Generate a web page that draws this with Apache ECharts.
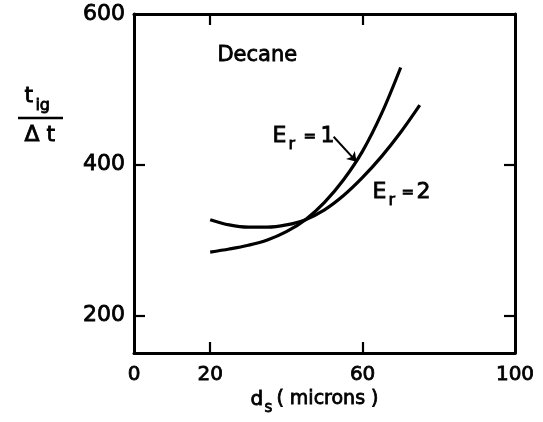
<!DOCTYPE html>
<html>
<head>
<meta charset="utf-8">
<script src="https://cdn.jsdelivr.net/npm/echarts@6/dist/echarts.min.js"></script>
<style>
  html, body { margin: 0; padding: 0; background: #fff; }
  #chart { width: 543px; height: 422px; }
</style>
</head>
<body>
<div id="chart"></div>
<script>
// Droplet diameter (microns) and normalised ignition time t_ig / Δt, decane
const er1Diam = [20, 25, 30, 35, 40, 45, 50, 55, 60, 65, 70];
const er1Time = [284, 288, 293, 300, 311, 327, 350, 380, 418, 468, 529];

const er2Diam = [20, 25, 30, 35, 40, 45, 50, 55, 60, 65, 70, 75];
const er2Time = [327, 320, 317, 317, 320, 327, 340, 359, 383, 411, 443, 479];

// Axis ticks
const xTickLabels = [0, 20, 60, 100];
const xTickMarks = [20, 60];
const yTickLabels = [200, 400, 600];
const yTickMarks = [200, 400];

// Leader arrow for the E_r = 1 label (data units)
const arrowFrom = [52.4, 437];
const arrowTo = [58.4, 404];

const FONT = 'DejaVu Sans';
const INK = '#000';
const HEAVY = 0.8; // slight outline to give the lettering a medium weight

const pairs = (xs, ys) => xs.map((x, i) => [x, ys[i]]);

const chart = echarts.init(document.getElementById('chart'), null, { renderer: 'canvas' });

const frameLine = { show: true, onZero: false, lineStyle: { color: INK, width: 3 } };
const tickStyle = { color: INK, width: 2.2 };

const txt = (left, top, text, size) => ({
  type: 'text', left, top,
  style: {
    text, fill: INK, font: size + 'px "DejaVu Sans"',
    stroke: INK, lineWidth: HEAVY
  }
});

const labelStyle = (size) => ({
  show: true, color: INK, fontSize: size, fontFamily: FONT,
  textBorderColor: INK, textBorderWidth: HEAVY
});

chart.setOption({
  animation: false,
  backgroundColor: '#fff',
  grid: { left: 134, right: 28, top: 14, bottom: 69, containLabel: false },
  xAxis: [
    {
      type: 'value', min: 0, max: 100, position: 'bottom',
      axisLine: frameLine,
      axisTick: { show: true, inside: true, length: 11, customValues: xTickMarks, lineStyle: tickStyle },
      axisLabel: Object.assign(labelStyle(20), { customValues: xTickLabels, margin: 12 }),
      splitLine: { show: false }
    },
    {
      type: 'value', min: 0, max: 100, position: 'top',
      axisLine: frameLine,
      axisTick: { show: true, inside: true, length: 11, customValues: xTickMarks, lineStyle: tickStyle },
      axisLabel: { show: false },
      splitLine: { show: false }
    }
  ],
  yAxis: [
    {
      type: 'value', min: 150, max: 600, position: 'left',
      axisLine: frameLine,
      axisTick: { show: true, inside: true, length: 11, customValues: yTickMarks, lineStyle: tickStyle },
      axisLabel: Object.assign(labelStyle(22), { customValues: yTickLabels, margin: 9 }),
      splitLine: { show: false }
    },
    {
      type: 'value', min: 150, max: 600, position: 'right',
      axisLine: frameLine,
      axisTick: { show: true, inside: true, length: 11, customValues: yTickMarks, lineStyle: tickStyle },
      axisLabel: { show: false },
      splitLine: { show: false }
    }
  ],
  series: [
    {
      name: 'E_r = 1', type: 'line', xAxisIndex: 0, yAxisIndex: 0,
      data: pairs(er1Diam, er1Time),
      smooth: 0.35, showSymbol: false, silent: true,
      lineStyle: { color: INK, width: 3.2 },
      markLine: {
        silent: true,
        symbol: ['none', 'arrow'],
        symbolSize: 9,
        label: { show: false },
        lineStyle: { color: INK, width: 2, type: 'solid' },
        data: [[{ coord: arrowFrom }, { coord: arrowTo }]]
      }
    },
    {
      name: 'E_r = 2', type: 'line', xAxisIndex: 0, yAxisIndex: 0,
      data: pairs(er2Diam, er2Time),
      smooth: 0.35, showSymbol: false, silent: true,
      lineStyle: { color: INK, width: 3.2 }
    }
  ],
  graphic: [
    // Fuel name
    txt(217, 45, 'Decane', 21),

    // Curve label E_r = 1
    txt(272, 125, 'E', 22),
    txt(288, 136, 'r', 16),
    txt(303, 129, '=', 15),
    txt(320, 125, '1', 22),

    // Curve label E_r = 2
    txt(372, 181, 'E', 22),
    txt(388, 192, 'r', 16),
    txt(401, 185, '=', 15),
    txt(416, 181, '2', 22),

    // Vertical axis title: t_ig / Δt
    txt(24, 85, 't', 22),
    txt(35, 97, 'ig', 16),
    { type: 'line', shape: { x1: 18, y1: 118, x2: 63, y2: 118 }, style: { stroke: INK, lineWidth: 2.5 } },
    txt(24, 124, 'Δ t', 22),

    // Horizontal axis title: d_s (microns)
    txt(250, 389, 'd', 20),
    txt(264, 400, 's', 15),
    txt(276, 389, '( microns )', 19)
  ]
});
</script>
</body>
</html>
